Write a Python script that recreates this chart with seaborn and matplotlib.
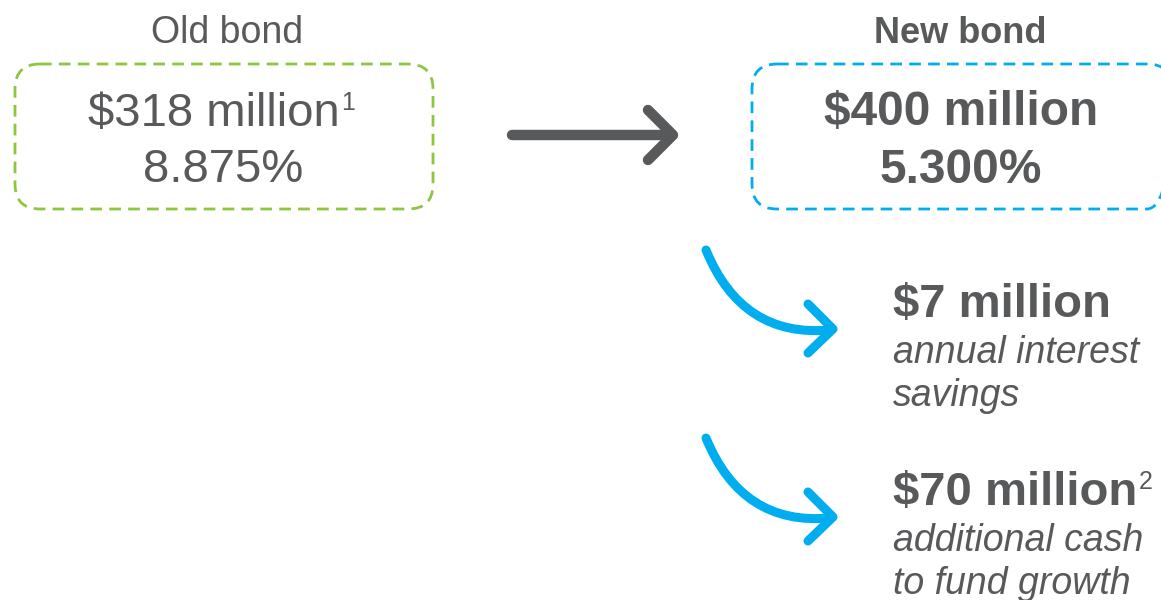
import numpy as np
import matplotlib.pyplot as plt
import seaborn as sns
from matplotlib.patches import FancyBboxPatch, PathPatch
from matplotlib.path import Path

# --- content ---
old_label = "Old bond"
old_amount = "$318 million"
old_note = "1"
old_rate = "8.875%"

new_label = "New bond"
new_amount = "$400 million"
new_rate = "5.300%"

benefit_amounts = ["$7 million", "$70 million"]
benefit_notes = ["", "2"]
benefit_desc = [["annual interest", "savings"],
                ["additional cash", "to fund growth"]]

GRAY = "#58595B"
GREEN = "#8DC63F"
BLUE = "#00AEEF"

sns.set_theme(style="white")
plt.rcParams['font.family'] = ['Liberation Sans', 'DejaVu Sans']

fig = plt.figure(figsize=(11.61, 6.0), dpi=100)
ax = fig.add_axes([0, 0, 1, 1])
ax.set_xlim(0, 1161)
ax.set_ylim(600, 0)
ax.axis('off')


def dashed_box(x0, y0, x1, y1, color):
    box = FancyBboxPatch((x0, y0), x1 - x0, y1 - y0,
                         boxstyle="round,pad=0,rounding_size=25",
                         fill=False, edgecolor=color, linewidth=2,
                         linestyle=(0, (4.2, 2.6)), clip_on=True)
    ax.add_patch(box)


def chevron_line(points, color, lw):
    xs, ys = zip(*points)
    ax.plot(xs, ys, color=color, linewidth=lw,
            solid_capstyle='round', solid_joinstyle='round')


# old bond
dashed_box(15, 64, 433, 209, GREEN)
ax.text(227, 43, old_label, ha='center', va='baseline',
        fontsize=27, color=GRAY, parse_math=False)
t_old = ax.text(214, 126, old_amount, ha='center', va='baseline',
                fontsize=34, color=GRAY, parse_math=False)
ax.annotate(old_note, xy=(1, 1), xycoords=t_old, xytext=(1, 1),
            textcoords='offset points', ha='left', va='top',
            fontsize=18, color=GRAY)
ax.text(223, 182, old_rate, ha='center', va='baseline',
        fontsize=34, color=GRAY, parse_math=False)

# new bond
dashed_box(752, 64, 1172, 209, BLUE)
ax.text(960, 43, new_label, ha='center', va='baseline', fontweight='bold',
        fontsize=26, color=GRAY, parse_math=False)
ax.text(961, 125, new_amount, ha='center', va='baseline', fontweight='bold',
        fontsize=34.5, color=GRAY, parse_math=False)
ax.text(961, 183, new_rate, ha='center', va='baseline', fontweight='bold',
        fontsize=34.5, color=GRAY, parse_math=False)

# main arrow
chevron_line([(512, 135), (672, 135)], GRAY, 7.5)
chevron_line([(648, 110), (673, 135), (648, 160)], GRAY, 7.5)

# benefit arrows and texts
row_offsets = [0, 188]
for i, dy in enumerate(row_offsets):
    verts = [(706, 250 + dy), (742, 338 + dy), (830, 330 + dy)]
    path = Path(verts, [Path.MOVETO, Path.CURVE3, Path.CURVE3])
    ax.add_patch(PathPatch(path, fill=False, edgecolor=BLUE, linewidth=6.5,
                           capstyle='round'))
    chevron_line([(808, 304 + dy), (833, 329 + dy), (808, 353 + dy)], BLUE, 6.5)

    t = ax.text(893, 317 + dy, benefit_amounts[i], ha='left', va='baseline',
                fontweight='bold', fontsize=34, color=GRAY, parse_math=False)
    if benefit_notes[i]:
        ax.annotate(benefit_notes[i], xy=(1, 1), xycoords=t, xytext=(1, 1),
                    textcoords='offset points', ha='left', va='top',
                    fontsize=18, color=GRAY)
    for j, line in enumerate(benefit_desc[i]):
        ax.text(893, 363 + dy + j * 43, line, ha='left', va='baseline',
                fontstyle='italic', fontsize=27, color=GRAY, parse_math=False)

fig.savefig('out.png', dpi=100, facecolor='white')
plt.close(fig)
